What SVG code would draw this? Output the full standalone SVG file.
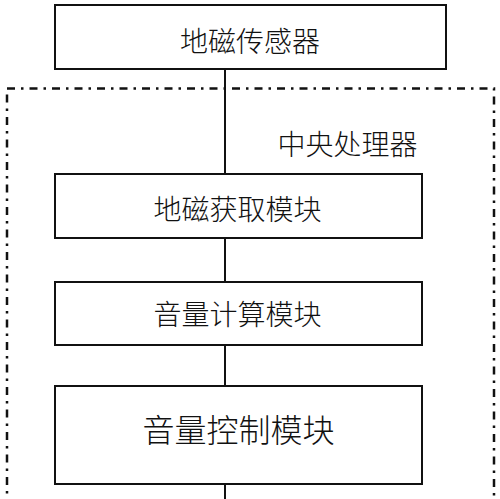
<svg xmlns="http://www.w3.org/2000/svg" width="500" height="499" viewBox="0 0 500 499">
<style>
.box{fill:#fff;stroke:#111;stroke-width:2}
.t{font-family:"Noto Sans CJK SC","Noto Sans CJK JP",sans-serif;font-size:28px;fill:#111;text-anchor:middle;dominant-baseline:central;font-weight:300}
.line{stroke:#111;stroke-width:2;fill:none}
.frame{fill:none;stroke:#111;stroke-width:2.5;stroke-dasharray:8 6 2.5 6}
</style>
<rect width="500" height="499" fill="#fff"/>
<g id="connectors">
<line class="line" x1="225" y1="69" x2="225" y2="174"/>
<line class="line" x1="225" y1="238" x2="225" y2="282"/>
<line class="line" x1="225" y1="345" x2="225" y2="386"/>
<line class="line" x1="225" y1="484" x2="225" y2="499"/>
</g>
<g id="cpu">
<rect class="frame" x="7" y="88.5" width="487" height="420"/>
<text class="t" x="347.5" y="142.5">中央处理器</text>
</g>
<g id="sensor">
<rect class="box" x="55" y="5" width="391" height="64"/>
<text class="t" x="250" y="39.5">地磁传感器</text>
</g>
<g id="acquire">
<rect class="box" x="55" y="174" width="367" height="64"/>
<text class="t" x="237.5" y="207.5">地磁获取模块</text>
</g>
<g id="calc">
<rect class="box" x="55" y="282" width="367" height="63"/>
<text class="t" x="237.5" y="312.5">音量计算模块</text>
</g>
<g id="control">
<rect class="box" x="55" y="386" width="367" height="98"/>
<text class="t" x="238.5" y="427.5" style="font-size:32px">音量控制模块</text>
</g>
</svg>
